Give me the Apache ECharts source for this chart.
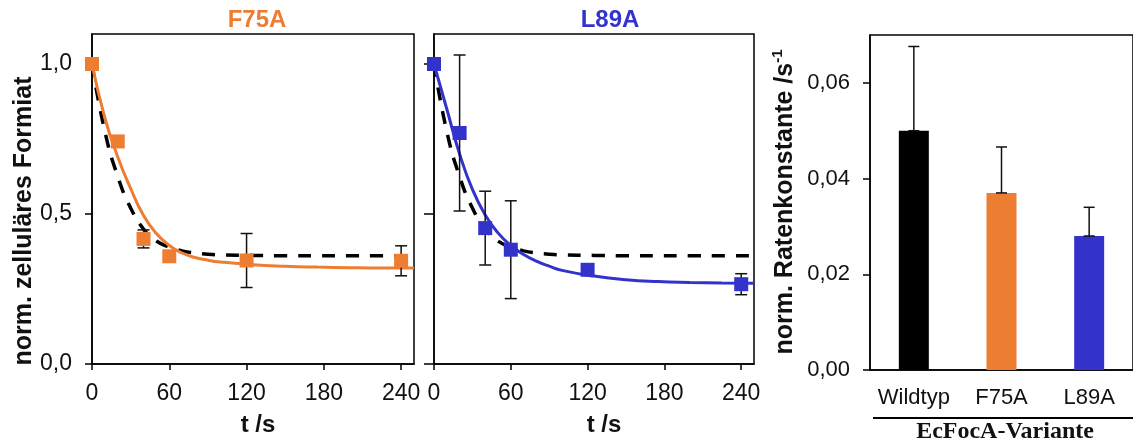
<!DOCTYPE html>
<html><head><meta charset="utf-8">
<script src="https://cdn.jsdelivr.net/npm/echarts@6/dist/echarts.min.js"></script>
<style>html,body{margin:0;padding:0;background:#fff}#c{width:1133px;height:443px}</style>
</head><body><div id="c"></div>
<script>
// ---- data ----
const timeTicks = [0, 60, 120, 180, 240];
const formiatTicks = [0, 0.5, 1.0];
const rateTicks = [0, 0.02, 0.04, 0.06];

const timesS = [0, 20, 40, 60, 120, 240];
const f75aMean = [1.0, 0.742, 0.417, 0.359, 0.345, 0.344];
const f75aErr  = [0, 0, 0.03, 0, 0.09, 0.05];
const l89aMean = [1.0, 0.77, 0.453, 0.381, 0.314, 0.266];
const l89aErr  = [0, 0.26, 0.123, 0.163, 0, 0.035];

const fitT    = [0, 10, 20, 30, 40, 50, 60, 70, 80, 90, 100, 125, 150, 175, 200, 225, 250];
const wtFit   = [1.0, 0.775, 0.625, 0.52, 0.45, 0.41, 0.39, 0.377, 0.37, 0.366, 0.364, 0.362, 0.361, 0.361, 0.361, 0.361, 0.361];
const f75aFit = [1.0, 0.82, 0.69, 0.585, 0.495, 0.435, 0.395, 0.37, 0.355, 0.346, 0.34, 0.331, 0.326, 0.323, 0.321, 0.32, 0.32];
const l89aFit = [1.0, 0.85, 0.70, 0.582, 0.497, 0.437, 0.395, 0.365, 0.343, 0.326, 0.312, 0.293, 0.281, 0.275, 0.272, 0.27, 0.269];

const variants = ['Wildtyp', 'F75A', 'L89A'];
const rate     = [0.05, 0.037, 0.028];
const rateErr  = [0.0176, 0.0096, 0.006];

// ---- styling ----
const ORANGE = '#ED7D31', BLUE = '#3333CC', INK = '#111';
const FONT = 'Liberation Sans, Arial, sans-serif';

const zip = (a, b) => a.map((v, i) => [v, b[i]]);
const errData = (t, m, e) => t.map((v, i) => [v, m[i] - e[i], m[i] + e[i]]).filter((d, i) => e[i] > 0);
const comma = (v, d) => v.toFixed(d).replace('.', ',');

function errRender(cap) {
  return function (params, api) {
    const x = api.value(0), lo = api.value(1), hi = api.value(2);
    const pLo = api.coord([x, lo]), pHi = api.coord([x, hi]);
    const st = { stroke: INK, lineWidth: 1.5 };
    return { type: 'group', children: [
      { type: 'line', shape: { x1: pLo[0], y1: pLo[1], x2: pHi[0], y2: pHi[1] }, style: st },
      { type: 'line', shape: { x1: pHi[0] - cap, y1: pHi[1], x2: pHi[0] + cap, y2: pHi[1] }, style: st },
      { type: 'line', shape: { x1: pLo[0] - cap, y1: pLo[1], x2: pLo[0] + cap, y2: pLo[1] }, style: st }
    ]};
  };
}

function timeAxis(idx) {
  return {
    type: 'value', gridIndex: idx, min: 0, max: 250, interval: 60,
    axisLine: { show: true, lineStyle: { color: '#000', width: 1.5 } },
    axisTick: { show: true, length: 6, customValues: timeTicks, lineStyle: { color: '#000', width: 1.5 } },
    axisLabel: { customValues: timeTicks, fontSize: 23, fontFamily: FONT, color: INK, margin: 18 },
    splitLine: { show: false }
  };
}
function formiatAxis(idx, showLabels, tickLen) {
  return {
    type: 'value', gridIndex: idx, min: 0, max: 1.1, interval: 0.5,
    axisLine: { show: true, lineStyle: { color: '#000', width: 1.5 } },
    axisTick: { show: true, length: tickLen, customValues: formiatTicks, lineStyle: { color: '#000', width: 1.5 } },
    axisLabel: { show: showLabels, customValues: formiatTicks, fontSize: 23, fontFamily: FONT, color: INK, margin: 20,
                 formatter: v => comma(v, 1) },
    splitLine: { show: false }
  };
}

const gridBox = { show: true, borderColor: '#000', borderWidth: 1.5, backgroundColor: 'transparent' };
const lineCommon = { showSymbol: false, smooth: 0.5 };

const chart = echarts.init(document.getElementById('c'));
chart.setOption({
  animation: false,
  backgroundColor: '#fff',
  grid: [
    Object.assign({ left: 92, top: 34, width: 322, height: 330 }, gridBox),
    Object.assign({ left: 434, top: 34, width: 320, height: 330 }, gridBox),
    Object.assign({ left: 870, top: 35, width: 270, height: 335 }, gridBox)
  ],
  xAxis: [
    timeAxis(0), timeAxis(1),
    { type: 'category', gridIndex: 2, data: variants,
      axisLine: { show: true, lineStyle: { color: '#000', width: 1.5 } },
      axisTick: { show: false },
      axisLabel: { interval: 0, fontSize: 22, fontFamily: FONT, color: INK, margin: 17 } }
  ],
  yAxis: [
    formiatAxis(0, true, 7), formiatAxis(1, false, 10),
    { type: 'value', gridIndex: 2, min: 0, max: 0.07, interval: 0.01,
      axisLine: { show: true, lineStyle: { color: '#000', width: 1.5 } },
      axisTick: { show: true, length: 7, customValues: rateTicks, lineStyle: { color: '#000', width: 1.5 } },
      axisLabel: { customValues: rateTicks, fontSize: 22, fontFamily: FONT, color: INK, margin: 20,
                   formatter: v => comma(v, 2) },
      splitLine: { show: false } }
  ],
  series: [
    // F75A panel
    Object.assign({ type: 'line', xAxisIndex: 0, yAxisIndex: 0, data: zip(fitT, wtFit),
      lineStyle: { color: '#000', width: 3.5, type: [13, 11] }, z: 2 }, lineCommon),
    Object.assign({ type: 'line', xAxisIndex: 0, yAxisIndex: 0, data: zip(fitT, f75aFit),
      lineStyle: { color: ORANGE, width: 3 }, z: 3 }, lineCommon),
    { type: 'custom', xAxisIndex: 0, yAxisIndex: 0, data: errData(timesS, f75aMean, f75aErr), renderItem: errRender(6), z: 4 },
    { type: 'scatter', xAxisIndex: 0, yAxisIndex: 0, data: zip(timesS, f75aMean), symbol: 'rect', symbolSize: 14,
      itemStyle: { color: ORANGE, opacity: 1 }, z: 5 },
    // L89A panel
    Object.assign({ type: 'line', xAxisIndex: 1, yAxisIndex: 1, data: zip(fitT, wtFit),
      lineStyle: { color: '#000', width: 3.5, type: [13, 11] }, z: 2 }, lineCommon),
    Object.assign({ type: 'line', xAxisIndex: 1, yAxisIndex: 1, data: zip(fitT, l89aFit),
      lineStyle: { color: BLUE, width: 3 }, z: 3 }, lineCommon),
    { type: 'custom', xAxisIndex: 1, yAxisIndex: 1, data: errData(timesS, l89aMean, l89aErr), renderItem: errRender(6), z: 4 },
    { type: 'scatter', xAxisIndex: 1, yAxisIndex: 1, data: zip(timesS, l89aMean), symbol: 'rect', symbolSize: 14,
      itemStyle: { color: BLUE, opacity: 1 }, z: 5 },
    // bar panel
    { type: 'bar', xAxisIndex: 2, yAxisIndex: 2, barWidth: 30,
      data: rate.map((v, i) => ({ value: v, itemStyle: { color: ['#000000', ORANGE, BLUE][i] } })), z: 2 },
    { type: 'custom', xAxisIndex: 2, yAxisIndex: 2,
      data: rate.map((v, i) => [i, v, v + rateErr[i]]), renderItem: errRender(5.5), z: 4 }
  ],
  graphic: [
    { type: 'text', x: 257, y: 20, style: { text: 'F75A', fill: ORANGE, font: 'bold 24px ' + FONT, align: 'center', verticalAlign: 'middle' } },
    { type: 'text', x: 610, y: 20, style: { text: 'L89A', fill: BLUE, font: 'bold 24px ' + FONT, align: 'center', verticalAlign: 'middle' } },
    { type: 'text', x: 258, y: 425, style: { text: 't /s', fill: INK, font: 'bold 24px ' + FONT, align: 'center', verticalAlign: 'middle' } },
    { type: 'text', x: 604, y: 425, style: { text: 't /s', fill: INK, font: 'bold 24px ' + FONT, align: 'center', verticalAlign: 'middle' } },
    { type: 'text', x: 24, y: 221, rotation: Math.PI / 2,
      style: { text: 'norm. zelluläres Formiat', fill: INK, font: 'bold 25px ' + FONT, align: 'center', verticalAlign: 'middle' } },
    { type: 'text', x: 785, y: 202, rotation: Math.PI / 2,
      style: { text: '{b|norm. Ratenkonstante /s}{sup|-1}', fill: INK, align: 'center', verticalAlign: 'middle',
               rich: { b: { font: 'bold 25px ' + FONT, fill: INK, lineHeight: 29 },
                       sup: { font: 'bold 15px ' + FONT, fill: INK, verticalAlign: 'top', lineHeight: 29 } } } },
    { type: 'line', shape: { x1: 873, y1: 418, x2: 1133, y2: 418 }, style: { stroke: '#000', lineWidth: 2 } },
    { type: 'text', x: 1005, y: 432, style: { text: 'EcFocA-Variante', fill: INK, font: 'bold 24px Liberation Serif, Times New Roman, serif', align: 'center', verticalAlign: 'middle' } }
  ]
});
</script>
</body></html>
